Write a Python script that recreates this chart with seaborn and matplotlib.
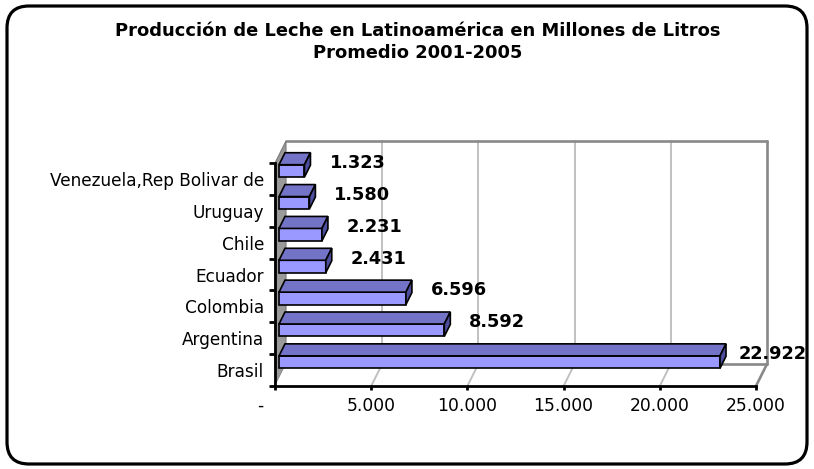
import numpy as np
import pandas as pd
import matplotlib
matplotlib.use("Agg")
import matplotlib.pyplot as plt
import seaborn as sns
from matplotlib.patches import Polygon, FancyBboxPatch
from matplotlib.lines import Line2D
from matplotlib.transforms import offset_copy, IdentityTransform, ScaledTranslation

# ---- data -------------------------------------------------------------
countries = ["Venezuela,Rep Bolivar de", "Uruguay", "Chile", "Ecuador",
             "Colombia", "Argentina", "Brasil"]
production = [1323, 1580, 2231, 2431, 6596, 8592, 22922]
x_ticks = [0, 5000, 10000, 15000, 20000, 25000]
x_tick_labels = ["-", "5.000", "10.000", "15.000", "20.000", "25.000"]
title_lines = ["Producción de Leche en Latinoamérica en Millones de Litros",
               "Promedio 2001-2005"]

# ---- styling ----------------------------------------------------------
W, H, DPI = 814, 469, 100
sns.set_theme(style="white")
plt.rcParams["font.family"] = ["DejaVu Sans"]

FRONT = "#9999FF"
TOP = "#7373C8"
SIDE = "#4D4D9E"
WALL_DEPTH = np.array([11.0, 22.0])   # pixels, depth of the 3-D box
BAR_SHIFT = np.array([4.0, 8.0])      # bars sit a little behind the front plane
BAR_DEPTH = np.array([6.0, 12.0])     # thickness of each 3-D bar

fig = plt.figure(figsize=(W / DPI, H / DPI), dpi=DPI)
fig.patch.set_facecolor("white")

# rounded chart border
fig.patches.append(FancyBboxPatch((7, 5), 800, 458,
                                  boxstyle="round,pad=0,rounding_size=22",
                                  transform=IdentityTransform(), fill=False,
                                  ec="black", lw=2.3, figure=fig))

for i, line in enumerate(title_lines):
    fig.text(418 / W, 1 - (31 + 22 * i) / H, line, ha="center", va="center",
             fontsize=12.9, fontweight="bold", color="black")

# front plane of the plot box
ax = fig.add_axes([275 / W, (H - 386) / H, 481 / W, 223 / H])
ax.set_facecolor("none")

df = pd.DataFrame({"country": countries, "litros": production})
sns.barplot(data=df, x="litros", y="country", orient="h", color=FRONT,
            saturation=1, edgecolor="black", linewidth=1.2, width=0.39,
            ax=ax, zorder=3)

n = len(countries)
ax.set_xlim(x_ticks[0], x_ticks[-1])
ax.set_ylim(n - 0.5, -0.5)
ax.set_xlabel("")
ax.set_ylabel("")


def px(x, y):
    return ax.transData.transform((x, y))


def poly(points, **kw):
    p = Polygon(np.array(points), closed=True, transform=IdentityTransform(),
                clip_on=False, **kw)
    ax.add_patch(p)
    return p


def seg(a, b, **kw):
    ln = Line2D([a[0], b[0]], [a[1], b[1]], transform=IdentityTransform(),
                clip_on=False, **kw)
    ax.add_line(ln)


x0, x1 = x_ticks[0], x_ticks[-1]
yb, yt = n - 0.5, -0.5
D = WALL_DEPTH

# back wall with vertical gridlines
poly([px(x0, yb) + D, px(x1, yb) + D, px(x1, yt) + D, px(x0, yt) + D],
     fc="white", ec="none", zorder=0.5)
for t in x_ticks[1:-1]:
    seg(px(t, yb) + D, px(t, yt) + D, color="#C0C0C0", lw=1.4, zorder=0.6)
seg(px(x0, yt) + D, px(x1, yt) + D, color="#888888", lw=1.9, zorder=0.7)
seg(px(x1, yt) + D, px(x1, yb) + D, color="#888888", lw=1.9, zorder=0.7)

# left side wall
poly([px(x0, yb), px(x0, yt), px(x0, yt) + D, px(x0, yb) + D],
     fc="#9A9A9A", ec="#7A7A7A", lw=0.8, zorder=0.8)

# floor
poly([px(x0, yb), px(x1, yb), px(x1, yb) + D, px(x0, yb) + D],
     fc="white", ec="none", zorder=0.9)
for t in x_ticks[1:-1]:
    seg(px(t, yb), px(t, yb) + D, color="#C0C0C0", lw=1.4, zorder=1.0)
seg(px(x0, yb) + D, px(x1, yb) + D, color="#888888", lw=1.9, zorder=1.1)
seg(px(x1, yb), px(x1, yb) + D, color="#888888", lw=1.9, zorder=1.1)

# 3-D bars: shifted front faces plus top and end faces
front_trans = offset_copy(ax.transData, fig=fig, x=BAR_SHIFT[0],
                          y=BAR_SHIFT[1], units="dots")
for bar in ax.patches[:]:
    if not hasattr(bar, "get_width") or bar.get_facecolor()[:3] == (1, 1, 1):
        continue
    bx, by, bw, bh = bar.get_x(), bar.get_y(), bar.get_width(), bar.get_height()
    bar.set_transform(front_trans)
    bar.set_clip_on(False)
    a = px(bx, by) + BAR_SHIFT
    b = px(bx + bw, by + bh) + BAR_SHIFT
    left, right = min(a[0], b[0]), max(a[0], b[0])
    top, bottom = max(a[1], b[1]), min(a[1], b[1])
    dx, dy = BAR_DEPTH
    poly([(left, top), (right, top), (right + dx, top + dy), (left + dx, top + dy)],
         fc=TOP, ec="black", lw=1.2, zorder=3)
    poly([(right, bottom), (right, top), (right + dx, top + dy), (right + dx, bottom + dy)],
         fc=SIDE, ec="black", lw=1.2, zorder=3)

# value labels
for i, v in enumerate(production):
    ax.annotate(f"{v:,}".replace(",", "."), xy=(v, i), xytext=(57, 16),
                textcoords="offset pixels", ha="center", va="center",
                fontsize=12.8, fontweight="bold", color="black",
                annotation_clip=False, zorder=5)

# axes lines and ticks
for s in ["top", "right"]:
    ax.spines[s].set_visible(False)
for s in ["left", "bottom"]:
    ax.spines[s].set_color("black")
    ax.spines[s].set_linewidth(2.0)
    ax.spines[s].set_zorder(4)

ax.set_yticks(np.arange(-0.5, n, 1.0), labels=[""] * (n + 1))
ax.set_yticks(np.arange(n), labels=countries, minor=True)
ax.tick_params(axis="y", which="major", length=4, width=2, color="black",
               left=True)
ax.tick_params(axis="y", which="minor", length=0, pad=8, labelsize=12.2,
               labelcolor="black", left=True)

ax.set_xticks(x_ticks, labels=x_tick_labels)
ax.tick_params(axis="x", which="major", length=3, width=2, color="black",
               bottom=True, pad=5, labelsize=12.3, labelcolor="black")
ax.get_xticklabels()[0].set_transform(
    ax.get_xticklabels()[0].get_transform()
    + ScaledTranslation(-15 / DPI, 0, fig.dpi_scale_trans))
ax.grid(False)

fig.savefig("out.png", dpi=DPI, facecolor="white")
